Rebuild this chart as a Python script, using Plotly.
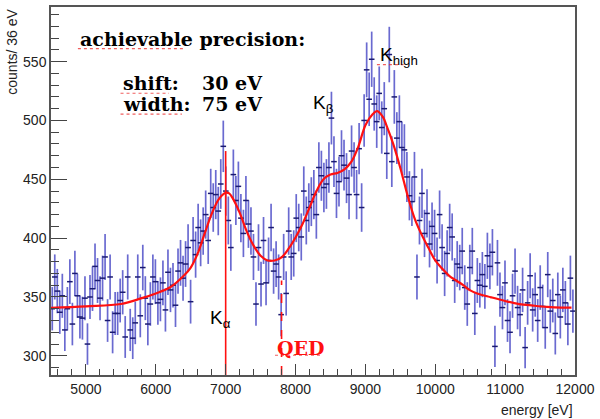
import plotly.graph_objects as go

# ---------------- data ----------------
bin_start = 4500
bin_width = 36

counts = [
    # 4518 .. 6030
    340, 367, 355, 337, 351, 322, 340, 363, 327, 370, 351, 333, 332, 349, 310, 350, 357, 376, 364, 349,
    366, 384, 330, 367, 320, 336, 336, 347, 354, 316, 367, 322, 315, 328, 367, 334, 375, 349, 327, 344,
    367, 363, 345,
    # 6066 .. 7578
    348, 362, 339, 371, 356, 360, 343, 372, 379, 366, 378, 392, 346, 398, 386, 409, 396, 406, 420, 398,
    438, 426, 437, 423, 446, 478, 440, 415, 392, 454, 432, 444, 417, 404, 432, 412, 406, 384, 344, 392,
    361, 398, 362,
    # 7614 .. 9126
    381, 409, 372, 378, 367, 335, 384, 353, 406, 384, 387, 417, 409, 401, 440, 415, 426, 431, 437, 420,
    460, 453, 443, 446, 460, 502, 465, 438, 448, 470, 462, 451, 437, 474, 460, 437, 476, 426, 500, 543,
    518, 552, 514,
    # 9162 .. 10638
    499, 523, 494, 510, 472, 556, 465, 520, 485, 499, 477, 475, 452, 436, 431, 452, 367, 415, 438, 404,
    421, 395, 410, 404, 381, 420, 392, 370, 387, 409, 401, 364, 378, 375, 389, 358, 344, 375, 389, 336,
    364, 360,
    # 10674 .. 11970
    369, 359, 385, 376, 388, 308, 379, 352, 341, 362, 330, 320, 351, 372, 341, 335, 356, 307, 345, 368,
    339, 352, 330, 358, 342, 324, 369, 338, 347, 319, 352, 333, 356, 345, 327, 366, 338,
]

fit_energy = [4500, 5000, 5500, 5800, 6000, 6200, 6400, 6500, 6600, 6700, 6800, 6900, 7000, 7050,
              7100, 7200, 7300, 7400, 7500, 7600, 7700, 7800, 7900, 8000, 8100, 8200, 8300, 8400,
              8500, 8600, 8700, 8800, 8900, 9000, 9100, 9170, 9250, 9300, 9400, 9500, 9600, 9700,
              9800, 9900, 10000, 10100, 10200, 10300, 10400, 10500, 10600, 10800, 11000, 11200,
              11400, 11600, 11800, 11950]
fit_counts = [340.7, 342, 344, 349, 353, 358, 368, 375, 387, 404, 420.6, 433, 438.5, 438,
              434, 421.7, 406, 393.6, 385, 381, 381, 383.7, 391, 400.6, 412, 426, 440, 450,
              454, 455.4, 458.5, 465, 478, 496, 505, 508, 503, 496, 479.6, 459.6, 437, 417.5,
              403.6, 392, 381, 374, 368, 364, 360, 355.6, 353, 349.7, 346.6, 344,
              342.7, 341.6, 341, 341]

kalpha_energy = 7000
qed_energy = 7800

x_range = [4500, 12000]
y_range = [283.7, 596.4]

# ---------------- figure ----------------
centers = [bin_start + bin_width * (i + 0.5) for i in range(len(counts))]
errors = [c ** 0.5 for c in counts]

fig = go.Figure()

fig.add_trace(go.Scatter(
    x=centers, y=counts, mode="markers",
    marker=dict(symbol="line-ew", size=4, color="#1a1a70",
                line=dict(width=1.5, color="#1a1a70")),
    error_y=dict(type="data", array=errors, visible=True, color="rgba(80,80,200,0.85)",
                 thickness=1.7, width=0),
    showlegend=False, hoverinfo="skip",
))

fig.add_trace(go.Scatter(
    x=fit_energy, y=fit_counts, mode="lines", line=dict(color="#ff1010", width=2.2, shape="spline"),
    showlegend=False, hoverinfo="skip",
))

# K-alpha line and QED line
fig.add_trace(go.Scatter(
    x=[kalpha_energy, kalpha_energy], y=[y_range[0], 474], mode="lines",
    line=dict(color="#ff1010", width=1.6), showlegend=False, hoverinfo="skip"))
fig.add_trace(go.Scatter(
    x=[qed_energy, qed_energy], y=[y_range[0], 364], mode="lines",
    line=dict(color="#ff1010", width=1.6, dash="dash"), showlegend=False, hoverinfo="skip"))

serif = "DejaVu Serif"
sans = "Liberation Sans"

def ann(x, y, text, size, family, color="black", xanchor="left"):
    fig.add_annotation(x=x, y=y, xref="x", yref="y", text=text, showarrow=False,
                       xanchor=xanchor, yanchor="middle",
                       font=dict(family=family, size=size, color=color))

ann(4885, 569.4, "<b>achievable precision:</b>", 19, serif)
ann(5495, 531.5, "<b>shift:</b>", 19, serif)
ann(6629, 531.5, "<b>30 eV</b>", 19, serif)
ann(5495, 513.8, "<b>width:</b>", 19, serif)
ann(6629, 513.8, "<b>75 eV</b>", 19, serif)
ann(8216, 514, "K<sub>β</sub>", 19, sans)
ann(9180, 555, "K<sub>high</sub>", 19, sans)
ann(6742, 331, "K<sub>α</sub>", 19, sans)
ann(7705, 306.4, "<b>QED</b>", 19, serif, color="#ff1010")

# spell-check style underlines beneath some words
squiggles = [
    (4885, 6402, 561.0),
    (5495, 6189, 523.1),
    (5495, 6373, 505.4),
    (9165, 9547, 547.5),
    (7706, 8358, 300.5),
]
for x0, x1, yy in squiggles:
    fig.add_shape(type="line", x0=x0, x1=x1, y0=yy, y1=yy, xref="x", yref="y",
                  line=dict(color="rgba(235,40,40,0.75)", width=1.2, dash="dot"))

# axis titles
fig.add_annotation(x=-0.075, y=1.0, xref="paper", yref="paper", text="counts/ 36 eV",
                   textangle=-90, showarrow=False, xanchor="center", yanchor="top",
                   font=dict(family=sans, size=14, color="#222"))
fig.add_annotation(x=1.0, y=-0.094, xref="paper", yref="paper", text="energy [eV]",
                   showarrow=False, xanchor="right", yanchor="middle",
                   font=dict(family=sans, size=14, color="#222"))

fig.update_xaxes(range=x_range, dtick=1000, tick0=0, tickformat="d", ticks="inside", ticklen=11,
                 tickwidth=1, tickcolor="#444", showgrid=False, zeroline=False, showline=True,
                 mirror=True, linecolor="#555", linewidth=1.5,
                 minor=dict(dtick=200, ticks="inside", ticklen=6, tickcolor="#444", showgrid=False),
                 tickfont=dict(family=sans, size=14, color="#222"))
fig.update_yaxes(range=y_range, dtick=50, tick0=0, tickformat="d", ticks="inside", ticklen=16,
                 tickwidth=1, tickcolor="#444", showgrid=False, zeroline=False, showline=True,
                 mirror=True, linecolor="#555", linewidth=1.5,
                 minor=dict(dtick=10, ticks="inside", ticklen=8, tickcolor="#444", showgrid=False),
                 tickfont=dict(family=sans, size=14, color="#222"))

fig.update_layout(width=600, height=419, margin=dict(l=51, r=20, t=5, b=44),
                  paper_bgcolor="white", plot_bgcolor="white")

fig.write_html("out.html", config={"displayModeBar": False},
               post_script="document.body.style.margin='0';document.body.style.overflow='hidden';")
